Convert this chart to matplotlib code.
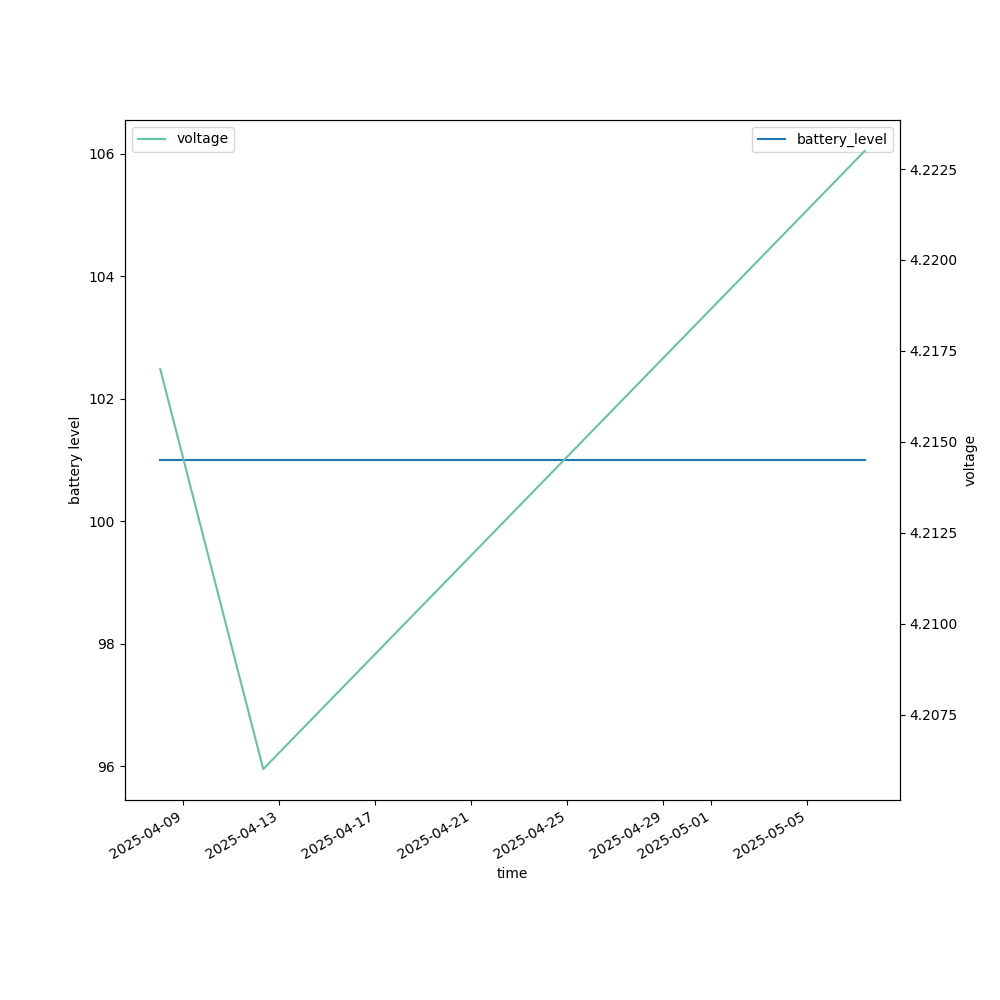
import matplotlib

matplotlib.use("Agg")
import matplotlib.pyplot as plt
import numpy as np
import pandas as pd

# readings
time = pd.to_datetime(["2025-04-08 01:00", "2025-04-12 08:00", "2025-05-07 09:30"])
battery_level = [101, 101, 101]
voltage = [4.2170, 4.2060, 4.2230]

fig, ax = plt.subplots(figsize=(10, 10), dpi=100)

ax.plot(time, battery_level, color="#1f77b4", label="battery_level")
ax.set_ylabel("battery level")
ax.set_xlabel("time")
ax.legend(loc="upper right")

ax2 = ax.twinx()
ax2.plot(time, voltage, color="#66c2a5", label="voltage")
ax2.set_ylabel("voltage")
ax2.legend(loc="upper left")

fig.autofmt_xdate()
fig.savefig("out.png")
